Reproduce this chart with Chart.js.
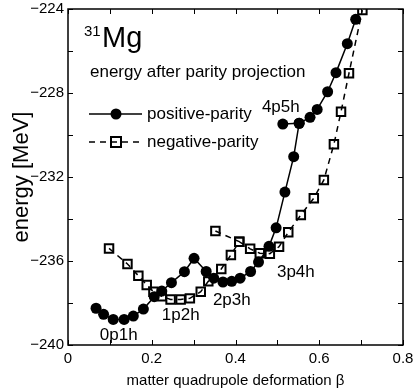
<!DOCTYPE html>
<html>
<head>
<meta charset="utf-8">
<script src="https://cdn.jsdelivr.net/npm/chart.js@4.4.0/dist/chart.umd.min.js"></script>
<style>
html, body { margin: 0; padding: 0; background: #fff; }
</style>
</head>
<body>
<canvas id="chart" width="415" height="390"></canvas>
<script>
"use strict"

// positive parity (filled circles)
const beta_pos = [0.067, 0.085, 0.108, 0.134, 0.156, 0.180, 0.206, 0.224, 0.247, 0.278, 0.301,
    0.330, 0.348, 0.370, 0.391, 0.411, 0.436, 0.455, 0.480, 0.497, 0.518, 0.539, 0.552,
    0.578, 0.595, 0.620, 0.640, 0.667, 0.687]
const energy_pos = [-238.25, -238.54, -238.78, -238.78, -238.62, -238.29, -237.70, -237.43, -237.03, -236.51, -235.87,
    -236.50, -236.82, -237.00, -236.97, -236.82, -236.50, -236.05, -235.30, -234.42, -232.72, -231.03, -229.44,
    -229.16, -228.78, -227.94, -227.03, -225.65, -224.49]
// 4p5h branch joining the positive curve
const beta_pos_branch = [0.513, 0.552]
const energy_pos_branch = [-229.48, -229.44]

// negative parity (open squares)
const beta_neg = [0.098, 0.142, 0.168, 0.188, 0.204, 0.224, 0.245, 0.269, 0.291, 0.317, 0.335,
    0.366, 0.389, 0.409, 0.435, 0.458, 0.482, 0.504, 0.526, 0.556, 0.587, 0.611,
    0.635, 0.652, 0.671, 0.703]
const energy_neg = [-235.40, -236.14, -236.70, -237.14, -237.46, -237.68, -237.83, -237.83, -237.78, -237.46, -236.97,
    -236.38, -235.71, -235.08, -235.42, -235.63, -235.65, -235.32, -234.63, -233.81, -233.01, -232.14,
    -230.44, -228.89, -227.06, -224.05]
const beta_neg_branch = [0.352, 0.409]
const energy_neg_branch = [-234.57, -235.08]

// configuration labels: text, beta, energy (left edge, middle)
const config_labels = ['0p1h', '1p2h', '2p3h', '3p4h', '4p5h']
const config_beta = [0.076, 0.224, 0.346, 0.499, 0.463]
const config_energy = [-239.52, -238.57, -237.86, -236.52, -228.67]

const FONT = "'Liberation Sans', Arial, Helvetica, sans-serif"

const to_points = (xs, ys) => xs.map((x, i) => ({ x: x, y: ys[i] }))

const fmt_y = (v) => (v < 0 ? '\u2212' : '') + Math.abs(v)

const frame_plugin = {
    id: 'frame',
    afterDraw(chart) {
        const ctx = chart.ctx
        const a = chart.chartArea
        const xs = chart.scales.x
        const ys = chart.scales.y
        ctx.save()
        ctx.strokeStyle = '#000'
        ctx.lineWidth = 1.5
        ctx.strokeRect(a.left, a.top, a.right - a.left, a.bottom - a.top)

        // inward ticks on all four sides
        ctx.lineWidth = 1
        ctx.beginPath()
        xs.ticks.forEach(t => {
            const px = Math.round(xs.getPixelForValue(t.value)) + 0.5
            ctx.moveTo(px, a.bottom); ctx.lineTo(px, a.bottom - 5)
            ctx.moveTo(px, a.top); ctx.lineTo(px, a.top + 5)
        })
        ys.ticks.forEach(t => {
            const py = Math.round(ys.getPixelForValue(t.value)) + 0.5
            ctx.moveTo(a.left, py); ctx.lineTo(a.left + 5, py)
            ctx.moveTo(a.right, py); ctx.lineTo(a.right - 5, py)
        })
        ctx.stroke()

        // configuration labels
        ctx.fillStyle = '#000'
        ctx.textBaseline = 'middle'
        ctx.textAlign = 'left'
        ctx.font = `17px ${FONT}`
        config_labels.forEach((txt, i) => {
            ctx.fillText(txt, xs.getPixelForValue(config_beta[i]), ys.getPixelForValue(config_energy[i]))
        })

        // nucleus name and subtitle
        ctx.textBaseline = 'alphabetic'
        ctx.font = `15px ${FONT}`
        ctx.fillText('31', a.left + 16, a.top + 27)
        ctx.font = `29px ${FONT}`
        ctx.fillText('Mg', a.left + 34, a.top + 38)
        ctx.font = `17px ${FONT}`
        ctx.fillText('energy after parity projection', a.left + 22, a.top + 68)

        // legend
        const lx0 = a.left + 21, lx1 = a.left + 74, lxm = a.left + 48
        const ly1 = a.top + 105, ly2 = a.top + 133
        ctx.lineWidth = 1.5
        ctx.beginPath()
        ctx.moveTo(lx0, ly1); ctx.lineTo(lx1, ly1)
        ctx.stroke()
        ctx.beginPath()
        ctx.arc(lxm, ly1, 5.5, 0, Math.PI * 2)
        ctx.fill()
        ctx.setLineDash([6, 5])
        ctx.beginPath()
        ctx.moveTo(lx0, ly2); ctx.lineTo(lx1, ly2)
        ctx.stroke()
        ctx.setLineDash([])
        ctx.lineWidth = 2
        ctx.strokeRect(lxm - 5, ly2 - 5, 10, 10)
        ctx.textBaseline = 'middle'
        ctx.fillText('positive-parity', a.left + 79, ly1)
        ctx.fillText('negative-parity', a.left + 79, ly2)
        ctx.restore()
    }
}

const pos_style = {
    borderColor: '#000',
    backgroundColor: '#000',
    borderWidth: 1.5,
    pointStyle: 'circle',
    pointRadius: 5.5,
    pointBorderWidth: 0,
    showLine: true,
    tension: 0
}

const neg_style = {
    borderColor: '#000',
    backgroundColor: 'rgba(0,0,0,0)',
    borderWidth: 1.5,
    borderDash: [6, 5],
    pointStyle: 'rect',
    pointRadius: 6,
    pointBorderWidth: 2,
    pointBorderColor: '#000',
    pointBackgroundColor: 'rgba(0,0,0,0)',
    showLine: true,
    tension: 0
}

// drop the automatic label overflow padding so layout.padding fixes the frame
const no_overflow = (scale) => {
    scale.paddingTop = 0
    scale.paddingBottom = 0
    scale.paddingLeft = 0
    scale.paddingRight = 0
}

new Chart(document.getElementById('chart').getContext('2d'), {
    type: 'scatter',
    data: {
        datasets: [
            Object.assign({ label: 'negative-parity', data: to_points(beta_neg, energy_neg) }, neg_style),
            Object.assign({ label: 'negative branch', data: to_points(beta_neg_branch, energy_neg_branch) }, neg_style),
            Object.assign({ label: 'positive-parity', data: to_points(beta_pos, energy_pos) }, pos_style),
            Object.assign({ label: 'positive branch', data: to_points(beta_pos_branch, energy_pos_branch) }, pos_style)
        ]
    },
    options: {
        responsive: false,
        animation: false,
        layout: { padding: { top: 9, right: 12, left: 0, bottom: 0 } },
        plugins: {
            legend: { display: false },
            tooltip: { enabled: false }
        },
        scales: {
            x: {
                type: 'linear',
                min: 0,
                max: 0.8,
                grid: { display: false, drawTicks: false },
                border: { display: false },
                ticks: {
                    stepSize: 0.1,
                    autoSkip: false,
                    maxRotation: 0,
                    padding: 5,
                    color: '#000',
                    font: { family: FONT, size: 15 },
                    callback: (v) => Math.round(v * 10) % 2 === 0 ? String(Math.round(v * 10) / 10) : ''
                },
                title: {
                    display: true,
                    text: 'matter quadrupole deformation \u03b2',
                    color: '#000',
                    font: { family: FONT, size: 15 },
                    padding: { top: 4, bottom: 0 }
                },
                afterFit: (scale) => { scale.height = 45; no_overflow(scale) }
            },
            y: {
                type: 'linear',
                min: -240,
                max: -224,
                grid: { display: false, drawTicks: false },
                border: { display: false },
                ticks: {
                    stepSize: 2,
                    autoSkip: false,
                    padding: 4,
                    color: '#000',
                    font: { family: FONT, size: 15 },
                    callback: (v) => v % 4 === 0 ? fmt_y(v) : ''
                },
                title: {
                    display: true,
                    text: 'energy [MeV]',
                    color: '#000',
                    font: { family: FONT, size: 22 },
                    padding: { top: 9, bottom: 0 }
                },
                afterFit: (scale) => { scale.width = 68; no_overflow(scale) }
            }
        }
    },
    plugins: [frame_plugin]
})
</script>
</body>
</html>
